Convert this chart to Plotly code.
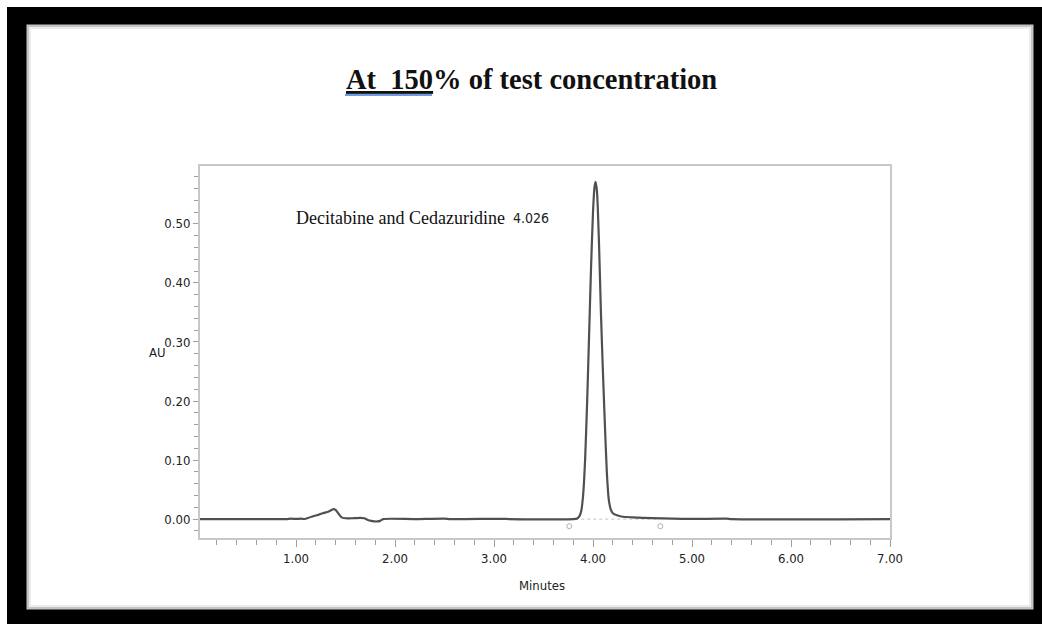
import plotly.graph_objects as go

# ---- data ----
time_min = [0.03, 0.50, 0.90, 0.95, 1.00, 1.05, 1.09, 1.12, 1.165, 1.22, 1.27, 1.33, 1.377,
            1.40, 1.43, 1.46, 1.50, 1.58, 1.65, 1.69, 1.72, 1.76, 1.82, 1.85, 1.88,
            2.20, 2.50, 2.56, 3.10, 3.15, 3.80, 3.84, 3.86, 3.88, 3.90, 3.92, 3.94,
            3.96, 3.98, 4.00, 4.015, 4.026, 4.04, 4.06, 4.08, 4.10, 4.12, 4.14, 4.16,
            4.18, 4.20, 4.25, 4.30, 4.40, 4.60, 4.80, 5.00, 5.35, 5.40, 7.00]
absorbance = [0.0, 0.0, 0.0, 0.0008, 0.0003, 0.0008, 0.0002, 0.002, 0.0045, 0.007, 0.010, 0.013, 0.017,
              0.0155, 0.009, 0.003, 0.0015, 0.0015, 0.002, 0.0015, -0.001, -0.003, -0.004, -0.003, 0.0,
              0.0, 0.0008, 0.0, 0.0005, 0.0, 0.0, 0.001, 0.004, 0.013, 0.040, 0.100, 0.195,
              0.309, 0.425, 0.520, 0.562, 0.571, 0.555, 0.470, 0.350, 0.250, 0.160, 0.078, 0.032,
              0.016, 0.010, 0.006, 0.004, 0.003, 0.0015, 0.0008, 0.0003, 0.0008, 0.0, 0.0]

peak_name = "Decitabine and Cedazuridine"
peak_rt = 4.026
integration_start = 3.76
integration_end = 4.68

x_tick_vals = [1, 2, 3, 4, 5, 6, 7]
x_tick_text = ["1.00", "2.00", "3.00", "4.00", "5.00", "6.00", "7.00"]
y_tick_vals = [0.0, 0.1, 0.2, 0.3, 0.4, 0.5]
y_tick_text = ["0.00", "0.10", "0.20", "0.30", "0.40", "0.50"]

W, H = 1042, 624
L, R, T, B = 200, 890, 166, 538


def px(xp):
    return (xp - L) / (R - L)


def py(yp):
    return (B - yp) / (B - T)


NARROW = "Liberation Sans Narrow, Arial Narrow, DejaVu Sans Condensed, sans-serif"
SERIF = "Liberation Serif, Times New Roman, serif"

fig = go.Figure()

# integration baseline
fig.add_trace(go.Scatter(
    x=[integration_start, integration_end], y=[0.0, 0.0], mode="lines",
    line=dict(color="#d0d0d0", width=1.2, dash="dot"), hoverinfo="skip", showlegend=False))
# integration marks
fig.add_trace(go.Scatter(
    x=[integration_start, integration_end], y=[-0.012, -0.012], mode="markers",
    marker=dict(symbol="circle-open", size=5, color="#b0b0b0", line=dict(width=1)),
    hoverinfo="skip", showlegend=False))
# chromatogram
fig.add_trace(go.Scatter(
    x=time_min, y=absorbance, mode="lines",
    line=dict(color="#505050", width=2.2, shape="spline", smoothing=0.6),
    showlegend=False))

axis_common = dict(
    showline=True, linecolor="#c8c8c8", linewidth=2, mirror=True,
    showgrid=False, zeroline=False, ticks="outside", tickcolor="#a0a0a0",
    tickfont=dict(family=NARROW, size=13, color="#222222"),
)
fig.update_xaxes(range=[0.03, 7.0], tickvals=x_tick_vals, ticktext=x_tick_text,
                 ticklen=7, tickwidth=1,
                 minor=dict(dtick=0.2, tick0=0, ticks="outside", ticklen=5, tickcolor="#a0a0a0"),
                 **axis_common)
fig.update_yaxes(range=[-0.032, 0.598], tickvals=y_tick_vals, ticktext=y_tick_text,
                 ticklen=5, tickwidth=1,
                 minor=dict(dtick=0.02, tick0=0, ticks="outside", ticklen=4, tickcolor="#a0a0a0"),
                 **axis_common)

shapes = [
    # black frame
    dict(type="rect", xref="paper", yref="paper", x0=px(7), x1=px(1042), y0=py(624), y1=py(7),
         fillcolor="black", line=dict(width=0), layer="below"),
    dict(type="rect", xref="paper", yref="paper", x0=px(27), x1=px(1033), y0=py(609), y1=py(25),
         fillcolor="white", line=dict(width=0), layer="below"),
    dict(type="rect", xref="paper", yref="paper", x0=px(28), x1=px(1032), y0=py(608), y1=py(26),
         fillcolor="rgba(0,0,0,0)", line=dict(width=3, color="#c4c4c4"), layer="below"),
    dict(type="rect", xref="paper", yref="paper", x0=px(30), x1=px(1030), y0=py(606), y1=py(28),
         fillcolor="rgba(0,0,0,0)", line=dict(width=2, color="#ececec"), layer="below"),
    # blue spell-check underline under title
    dict(type="line", xref="paper", yref="paper", x0=px(345), x1=px(432), y0=py(95), y1=py(95),
         line=dict(width=2, color="#6f9be0")),
]

annotations = [
    dict(text="<b><u>At\u00a0\u00a0150</u>% of test concentration</b>", x=px(531.5), y=py(79),
         xref="paper", yref="paper", showarrow=False, xanchor="center", yanchor="middle",
         font=dict(family=SERIF, size=28.5, color="#111111")),
    dict(text=peak_name, x=0.98, y=0.51, xref="x", yref="y", showarrow=False,
         xanchor="left", yanchor="middle", font=dict(family=SERIF, size=18, color="#111111")),
    dict(text=f"{peak_rt:.3f}", x=3.17, y=0.51, xref="x", yref="y", showarrow=False,
         xanchor="left", yanchor="middle", font=dict(family=NARROW, size=14, color="#222222")),
    dict(text="AU", x=px(157), y=py(352), xref="paper", yref="paper", showarrow=False,
         xanchor="center", yanchor="middle", font=dict(family=NARROW, size=13, color="#222222")),
    dict(text="Minutes", x=px(542), y=py(585), xref="paper", yref="paper", showarrow=False,
         xanchor="center", yanchor="middle", font=dict(family=NARROW, size=13, color="#222222")),
]

fig.update_layout(
    width=W, height=H,
    margin=dict(l=L, r=W - R, t=T, b=H - B, pad=0),
    paper_bgcolor="white", plot_bgcolor="rgba(0,0,0,0)",
    shapes=shapes, annotations=annotations, showlegend=False,
)

fig.write_html("out.html")
